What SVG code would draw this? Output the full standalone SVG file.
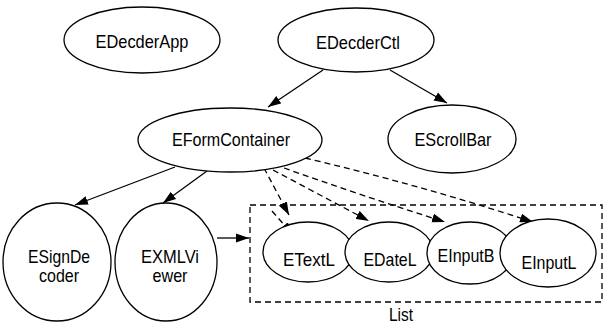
<svg xmlns="http://www.w3.org/2000/svg" width="604" height="324" viewBox="0 0 604 324">
<defs>
<marker id="ah" markerUnits="userSpaceOnUse" markerWidth="14" markerHeight="10" refX="13" refY="5" orient="auto">
<path d="M0,0.5 L13,5 L0,9.5 z" fill="#000"/>
</marker>
<style>
.n ellipse{fill:#fff;stroke:#000;stroke-width:1.3}
text{font-family:"Liberation Sans",Arial,sans-serif;font-size:18.5px;fill:#000;text-anchor:middle}
.e{fill:none;stroke:#000;stroke-width:1.3;marker-end:url(#ah)}
.d{stroke-dasharray:6,4}
</style>
</defs>
<rect width="604" height="324" fill="#fff"/>
<g id="cluster-list">
<rect x="250" y="205" width="352" height="97" fill="none" stroke="#000" stroke-width="1.3" stroke-dasharray="6,4"/>
<text x="401" y="321" textLength="24" lengthAdjust="spacingAndGlyphs">List</text>
</g>
<g id="connectors">
<line class="e" x1="323" y1="70" x2="268" y2="107"/>
<line class="e" x1="390" y1="70" x2="447" y2="103"/>
<line class="e" x1="175" y1="167" x2="75" y2="205"/>
<line class="e" x1="207" y1="171" x2="163" y2="203"/>
<line class="e" x1="217" y1="238" x2="249" y2="238"/>
<line class="e d" x1="264" y1="168" x2="289" y2="215"/>
<line class="e d" x1="272" y1="211" x2="293" y2="235"/>
<line class="e d" x1="273" y1="170" x2="369" y2="221"/>
<path class="e d" d="M284,168 Q360,195 445,222"/>
<path class="e d" d="M305,158 Q420,185 533,222"/>
</g>
<g id="EDecderApp" class="n"><ellipse cx="142" cy="40" rx="78" ry="33"/><text x="142" y="48" textLength="93" lengthAdjust="spacingAndGlyphs">EDecderApp</text></g>
<g id="EDecderCtl" class="n"><ellipse cx="356" cy="40" rx="78" ry="32"/><text x="358" y="49" textLength="84" lengthAdjust="spacingAndGlyphs">EDecderCtl</text></g>
<g id="EFormContainer" class="n"><ellipse cx="230" cy="140" rx="92" ry="32"/><text x="231" y="146" textLength="118" lengthAdjust="spacingAndGlyphs">EFormContainer</text></g>
<g id="EScrollBar" class="n"><ellipse cx="452" cy="139" rx="64" ry="34"/><text x="453" y="146" textLength="77" lengthAdjust="spacingAndGlyphs">EScrollBar</text></g>
<g id="ESignDecoder" class="n"><ellipse cx="57" cy="262" rx="54" ry="59"/><text x="59" y="263" textLength="62" lengthAdjust="spacingAndGlyphs">ESignDe</text><text x="59" y="282" textLength="40" lengthAdjust="spacingAndGlyphs">coder</text></g>
<g id="EXMLViewer" class="n"><ellipse cx="166" cy="262" rx="51" ry="59"/><text x="170" y="263" textLength="58" lengthAdjust="spacingAndGlyphs">EXMLVi</text><text x="170" y="282" textLength="35" lengthAdjust="spacingAndGlyphs">ewer</text></g>
<g id="ETextL" class="n"><ellipse cx="308" cy="252" rx="45" ry="30"/><text x="309" y="266" textLength="52" lengthAdjust="spacingAndGlyphs">ETextL</text></g>
<g id="EDateL" class="n"><ellipse cx="389" cy="252" rx="44" ry="30"/><text x="390" y="266" textLength="53" lengthAdjust="spacingAndGlyphs">EDateL</text></g>
<g id="EInputB" class="n"><ellipse cx="470" cy="253" rx="43" ry="31"/><text x="466" y="262" textLength="57" lengthAdjust="spacingAndGlyphs">EInputB</text></g>
<g id="EInputL" class="n"><ellipse cx="548" cy="253" rx="48" ry="34"/><text x="549" y="269" textLength="55" lengthAdjust="spacingAndGlyphs">EInputL</text></g>
</svg>
